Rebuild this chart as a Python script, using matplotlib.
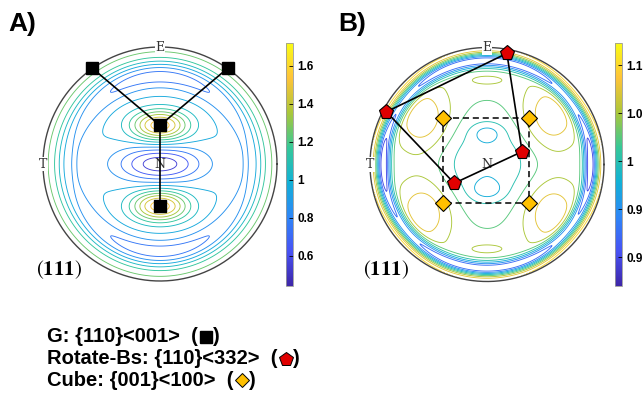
import numpy as np
import matplotlib.pyplot as plt
from matplotlib.colors import LinearSegmentedColormap, Normalize
from matplotlib.cm import ScalarMappable

plt.rcParams['mathtext.fontset'] = 'stix'

# ---- data (stereographic coords, unit circle) ----
# panel A: G {110}<001> poles
goss_x = [-0.58, 0.58, 0.0, 0.0]
goss_y = [0.82, 0.82, 0.33, -0.36]
goss_links = [(0, 2), (1, 2), (2, 3)]

# panel B: Rotate-Bs poles (closed loop) and Cube poles
rbs_x = [0.17, -0.86, -0.28, 0.30]
rbs_y = [0.95, 0.45, -0.16, 0.11]
cube_x = [-0.38, 0.36, -0.38, 0.36]
cube_y = [0.40, 0.40, -0.33, -0.33]

# intensity components: centre x, centre y, amplitude, width x, width y
a_cx = [0.0, 0.0, 0.0]
a_cy = [0.33, -0.36, 0.0]
a_amp = [0.67, 0.67, -0.47]
a_sx = [0.24, 0.24, 0.36]
a_sy = [0.13, 0.13, 0.15]
a_ring = dict(base=0.95, rim=0.33, rim_w=0.16, band=0.28, band_r=0.76, band_w=0.11, side=0.55)

b_cx = [-0.54, 0.54, -0.53, 0.54, 0.0, 0.0, 0.0, 0.0, 0.0, -0.87, 0.87]
b_cy = [0.38, 0.40, -0.39, -0.40, 0.0, 0.27, -0.22, 0.72, -0.72, 0.0, 0.0]
b_amp = [0.066, 0.066, 0.066, 0.066, -0.06, -0.035, -0.035, 0.025, 0.025, -0.03, -0.03]
b_sx = [0.25, 0.25, 0.25, 0.25, 0.50, 0.13, 0.13, 0.20, 0.20, 0.05, 0.05]
b_sy = [0.30, 0.30, 0.30, 0.30, 0.42, 0.08, 0.08, 0.06, 0.06, 0.20, 0.20]
b_ring = dict(base=1.035, rim=0.072, rim_w=0.07, band=0.14, band_r=0.89, band_w=0.06, side=0.0)

a_levels = np.arange(0.55, 1.6, 0.1)
b_levels = np.arange(0.9, 1.11, 0.025)
a_range = (0.44, 1.72)
b_range = (0.87, 1.123)
a_ticks = [0.6, 0.8, 1.0, 1.2, 1.4, 1.6]
a_ticklabels = ['0.6', '0.8', '1', '1.2', '1.4', '1.6']
b_ticks = [0.9, 0.95, 1.0, 1.05, 1.1]
b_ticklabels = ['0.9', '0.95', '1', '1.05', '1.1']

legend_lines = ['G: {110}<001>', 'Rotate-Bs: {110}<332>', 'Cube: {001}<100>']

parula = LinearSegmentedColormap.from_list('parula', [
    (0.2422, 0.1504, 0.6603), (0.2810, 0.3228, 0.9578), (0.1786, 0.5289, 0.9682),
    (0.0689, 0.6948, 0.8394), (0.2161, 0.7843, 0.5923), (0.6720, 0.7793, 0.2227),
    (0.9970, 0.7659, 0.2199), (0.9769, 0.9839, 0.0805)])

W, H = 643, 397
fig = plt.figure(figsize=(W / 100, H / 100), dpi=100)


def px_axes(x0, y0, w, h):
    return fig.add_axes([x0 / W, 1 - (y0 + h) / H, w / W, h / H])


g = np.linspace(-1, 1, 401)
X, Y = np.meshgrid(g, g)
R = np.hypot(X, Y)
TH = np.arctan2(Y, X)


def intensity(ring, cx, cy, amp, sx, sy):
    f = ring['base'] + ring['rim'] * np.exp(-((R - 1) / ring['rim_w']) ** 2)
    f = f - ring['band'] * (1 - ring['side'] * np.cos(TH) ** 2) * np.exp(-((R - ring['band_r']) / ring['band_w']) ** 2)
    for x, y, a, wx, wy in zip(cx, cy, amp, sx, sy):
        f = f + a * np.exp(-((X - x) / wx) ** 2 - ((Y - y) / wy) ** 2)
    f[R > 0.995] = np.nan
    return f


def pole_figure(cx_px, cy_px, rad, field, levels, vrange):
    half = rad * 1.1
    ax = px_axes(cx_px - half, cy_px - half, 2 * half, 2 * half)
    ax.set_xlim(-1.1, 1.1)
    ax.set_ylim(-1.1, 1.1)
    ax.axis('off')
    ax.contour(X, Y, field, levels=levels, cmap=parula, vmin=vrange[0], vmax=vrange[1],
               linewidths=0.65)
    t = np.linspace(0, 2 * np.pi, 400)
    ax.plot(np.cos(t), np.sin(t), color='#444444', lw=1.0)
    lab = dict(family='DejaVu Serif', fontsize=9, ha='center', va='center', color='#333333')
    ax.text(0, 1.0, 'E', bbox=dict(fc='white', ec='none', pad=0.5), **lab)
    ax.text(-1.0, 0, 'T', bbox=dict(fc='white', ec='none', pad=0.5), **lab)
    ax.text(0, 0, 'N', **lab)
    ax.text(-0.86, -0.9, r'$(\mathbf{111})$', fontsize=15, ha='center', va='center')
    return ax


def colorbar(x_px, norm, ticks, labels):
    cax = px_axes(x_px, 43, 7, 243)
    cb = fig.colorbar(ScalarMappable(norm=norm, cmap=parula), cax=cax)
    cb.set_ticks(ticks)
    cb.set_ticklabels(labels)
    cb.outline.set_edgecolor('#999999')
    cb.outline.set_linewidth(0.6)
    cax.tick_params(direction='in', length=3, width=0.6, labelsize=8.5, pad=3)
    for lbl in cax.get_yticklabels():
        lbl.set_fontweight('bold')
        lbl.set_family('Liberation Sans')


# overlay in pixel units for panel letters and the legend
lax = fig.add_axes([0, 0, 1, 1])
lax.set_xlim(0, W)
lax.set_ylim(H, 0)
lax.axis('off')

fieldA = intensity(a_ring, a_cx, a_cy, a_amp, a_sx, a_sy)
fieldB = intensity(b_ring, b_cx, b_cy, b_amp, b_sx, b_sy)

axA = pole_figure(160, 164, 117, fieldA, a_levels, a_range)
for i, j in goss_links:
    axA.plot([goss_x[i], goss_x[j]], [goss_y[i], goss_y[j]], color='black', lw=1.2, zorder=3)
axA.plot(goss_x, goss_y, ls='none', marker='s', ms=9, color='black', zorder=4)

axB = pole_figure(487, 164.5, 117, fieldB, b_levels, b_range)
axB.plot(cube_x[:2] + cube_x[3:1:-1] + cube_x[:1], cube_y[:2] + cube_y[3:1:-1] + cube_y[:1],
         color='black', lw=1.1, ls=(0, (4, 2.5)), zorder=3)
axB.plot(rbs_x + rbs_x[:1], rbs_y + rbs_y[:1], color='black', lw=1.2, zorder=3)
axB.plot(rbs_x, rbs_y, ls='none', marker='p', ms=11, mfc='#e00000', mec='black', mew=0.8, zorder=4)
axB.plot(cube_x, cube_y, ls='none', marker='D', ms=8, mfc='#ffc000', mec='black', mew=0.8, zorder=4)

colorbar(286, Normalize(*a_range), a_ticks, a_ticklabels)
colorbar(615, Normalize(*b_range), b_ticks, b_ticklabels)

lax.text(8, 24, 'A)', fontsize=19, fontweight='bold', family='Liberation Sans', va='center')
lax.text(338, 24, 'B)', fontsize=19, fontweight='bold', family='Liberation Sans', va='center')

# legend: text, then "( marker )" placed after the measured text end
leg = dict(fontsize=14.5, fontweight='bold', family='Liberation Sans', va='center')
leg_y = [337, 359, 380]
leg_markers = [dict(marker='s', ms=8, color='black'),
               dict(marker='p', ms=10, mfc='#e00000', mec='black', mew=0.7),
               dict(marker='D', ms=7, mfc='#ffc000', mec='black', mew=0.7)]
renderer = fig.canvas.get_renderer()
for txt, y, mk in zip(legend_lines, leg_y, leg_markers):
    t = lax.text(47, y, txt + '  (', **leg)
    x_end = t.get_window_extent(renderer).x1
    lax.plot(x_end + 8, y, **mk)
    lax.text(x_end + 15, y, ')', ha='left', **leg)

fig.savefig('out.png', dpi=100)
